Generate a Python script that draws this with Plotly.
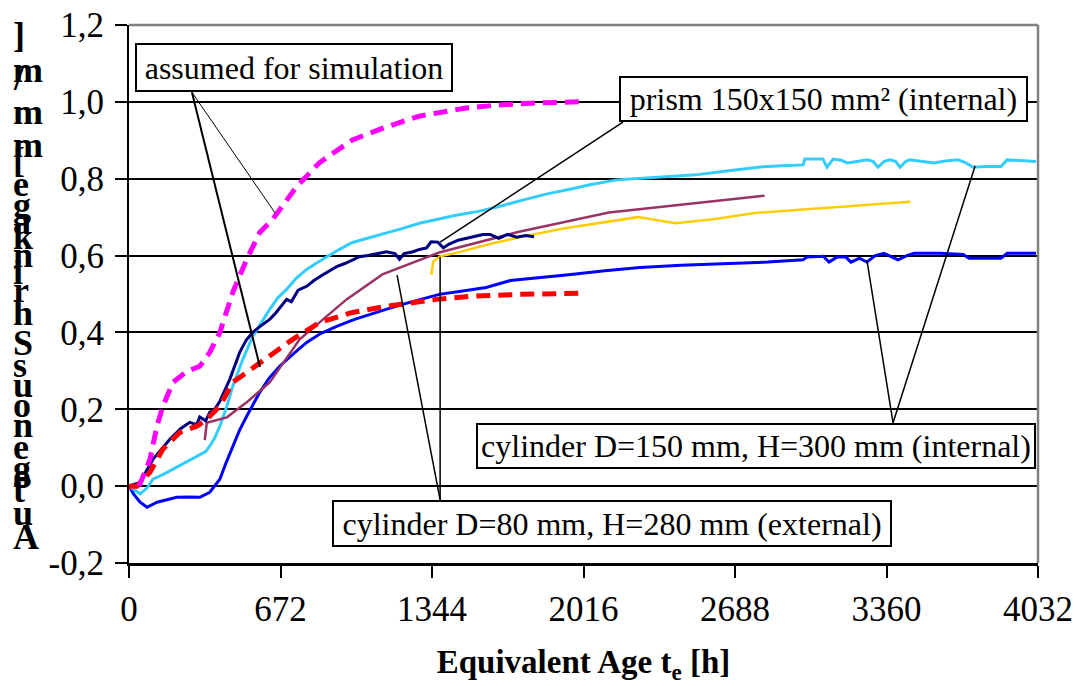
import plotly.graph_objects as go

# ---------------- data ----------------
x_ticks = [0, 672, 1344, 2016, 2688, 3360, 4032]
y_ticks = [-0.2, 0.0, 0.2, 0.4, 0.6, 0.8, 1.0, 1.2]
y_tick_labels = ["-0,2", "0,0", "0,2", "0,4", "0,6", "0,8", "1,0", "1,2"]

# assumed for simulation (upper, magenta dashed)
sim_upper_x = [45, 58, 93, 124, 150, 195, 257, 314, 358, 403, 460, 522, 580, 637, 743, 845, 991, 1142, 1288, 1496, 1638, 1800, 1996]
sim_upper_y = [0.0, 0.018, 0.07, 0.156, 0.208, 0.27, 0.299, 0.312, 0.348, 0.40, 0.504, 0.59, 0.66, 0.694, 0.779, 0.842, 0.901, 0.935, 0.963, 0.984, 0.992, 0.997, 1.0]

# assumed for simulation (lower, red dashed)
sim_lower_x = [0, 35, 93, 150, 226, 301, 345, 403, 460, 580, 726, 845, 991, 1142, 1363, 1509, 1730, 2009]
sim_lower_y = [0.0, 0.0, 0.036, 0.096, 0.14, 0.156, 0.174, 0.208, 0.27, 0.322, 0.382, 0.426, 0.452, 0.468, 0.486, 0.494, 0.499, 0.502]

# prism 150x150 mm2 (internal), navy
prism_x = [0, 49, 106, 150, 181, 230, 270, 300, 314, 340, 358, 380, 403, 447, 491, 520, 549, 580, 624, 650, 699, 720, 750, 788,
           820, 860, 900, 921, 960, 1000, 1022, 1060, 1100, 1142, 1180, 1200, 1220, 1260, 1288, 1320, 1340, 1370, 1394, 1420,
           1460, 1496, 1530, 1570, 1602, 1640, 1680, 1720, 1760, 1797]
prism_y = [0.0, 0.01, 0.07, 0.10, 0.122, 0.15, 0.166, 0.16, 0.18, 0.17, 0.192, 0.20, 0.221, 0.278, 0.348, 0.38, 0.40, 0.415,
           0.434, 0.45, 0.486, 0.48, 0.51, 0.52, 0.535, 0.55, 0.565, 0.571, 0.58, 0.59, 0.597, 0.60, 0.605, 0.61, 0.605, 0.59,
           0.605, 0.61, 0.616, 0.62, 0.636, 0.635, 0.62, 0.63, 0.64, 0.645, 0.65, 0.655, 0.655, 0.645, 0.655, 0.648, 0.652, 0.649]

# cylinder D=150 mm, H=300 mm (internal) - upper, cyan
cyl150a_x = [0, 18, 49, 80, 106, 150, 195, 250, 301, 340, 358, 380, 403, 434, 460, 505, 549, 580, 624, 660, 699, 740, 788, 830,
             876, 930, 991, 1060, 1142, 1210, 1288, 1363, 1450, 1550, 1638, 1750, 1850, 1950, 2050, 2164, 2300, 2400, 2514,
             2650, 2810, 2900, 2990, 2998, 3078, 3096, 3123, 3160, 3185, 3230, 3273, 3300, 3322, 3350, 3375, 3400, 3420, 3445,
             3464, 3520, 3571, 3620, 3677, 3710, 3744, 3800, 3868, 3895, 3950, 4023]
cyl150a_y = [0.0, -0.008, -0.02, -0.005, 0.018, 0.03, 0.044, 0.06, 0.078, 0.09, 0.104, 0.125, 0.156, 0.208, 0.26, 0.33, 0.39,
             0.42, 0.46, 0.49, 0.512, 0.54, 0.564, 0.58, 0.597, 0.615, 0.634, 0.645, 0.66, 0.67, 0.684, 0.694, 0.705, 0.715,
             0.727, 0.745, 0.76, 0.772, 0.785, 0.797, 0.802, 0.806, 0.81, 0.82, 0.831, 0.834, 0.836, 0.851, 0.851, 0.830,
             0.851, 0.848, 0.841, 0.845, 0.849, 0.845, 0.830, 0.845, 0.849, 0.845, 0.830, 0.845, 0.849, 0.845, 0.841, 0.846,
             0.849, 0.842, 0.830, 0.832, 0.832, 0.849, 0.848, 0.845]

# cylinder D=150 mm, H=300 mm (internal) - lower, blue
cyl150b_x = [0, 20, 49, 80, 124, 170, 212, 260, 314, 358, 403, 430, 460, 490, 522, 580, 620, 668, 730, 788, 850, 921, 1000,
             1067, 1140, 1213, 1300, 1376, 1480, 1584, 1691, 1800, 1950, 2100, 2266, 2450, 2650, 2834, 2990, 3007, 3080,
             3105, 3140, 3180, 3202, 3240, 3273, 3310, 3349, 3411, 3450, 3482, 3600, 3700, 3726, 3868, 3895, 4023]
cyl150b_y = [0.0, -0.02, -0.042, -0.055, -0.042, -0.035, -0.029, -0.028, -0.029, -0.016, 0.018, 0.06, 0.104, 0.145, 0.182,
             0.244, 0.28, 0.312, 0.345, 0.374, 0.397, 0.416, 0.434, 0.447, 0.46, 0.473, 0.487, 0.499, 0.508, 0.517, 0.535,
             0.541, 0.55, 0.56, 0.569, 0.575, 0.58, 0.583, 0.589, 0.596, 0.598, 0.583, 0.596, 0.596, 0.583, 0.593, 0.583,
             0.60, 0.606, 0.589, 0.60, 0.606, 0.606, 0.603, 0.593, 0.593, 0.606, 0.606]

# cylinder D=80 mm, H=280 mm (external) - purple
cyl80a_x = [336, 345, 434, 522, 624, 757, 965, 1124, 1376, 1730, 2129, 2819]
cyl80a_y = [0.12, 0.165, 0.179, 0.218, 0.27, 0.382, 0.486, 0.551, 0.608, 0.662, 0.712, 0.756]

# cylinder D=80 mm, H=280 mm (external) - gold
cyl80b_x = [1341, 1350, 1380, 1465, 1600, 1750, 1934, 2100, 2257, 2425, 2600, 2775, 3100, 3466]
cyl80b_y = [0.55, 0.585, 0.598, 0.609, 0.63, 0.65, 0.671, 0.685, 0.700, 0.684, 0.695, 0.711, 0.725, 0.74]

y_title = "Autogenous Shrinkage [mm/m]"
x_title = "<b>Equivalent Age t<sub>e</sub> [h]</b>"

label_sim = "assumed for simulation"
label_prism = "prism 150x150 mm² (internal)"
label_cyl150 = "cylinder D=150 mm, H=300 mm (internal)"
label_cyl80 = "cylinder D=80 mm, H=280 mm (external)"

# ---------------- figure ----------------
FONT = "Liberation Serif"
fig = go.Figure()

def add_line(x, y, color, width, dash="solid"):
    fig.add_trace(go.Scatter(x=x, y=y, mode="lines", line=dict(color=color, width=width, dash=dash),
                             showlegend=False, hoverinfo="skip"))

add_line(cyl150b_x, cyl150b_y, "#0000FF", 3)
add_line(cyl150a_x, cyl150a_y, "#33CCFF", 3)
add_line(cyl80a_x, cyl80a_y, "#993366", 2.5)
add_line(cyl80b_x, cyl80b_y, "#FFCC00", 2.5)
add_line(prism_x, prism_y, "#000080", 3)
add_line(sim_lower_x, sim_lower_y, "#FF0000", 5, "14px,8px")
add_line(sim_upper_x, sim_upper_y, "#FF00FF", 5, "14px,8px")

# page body has an 8px margin: the figure is drawn 8px right/down
OFF = 8
W, H = 1080 - OFF, 686 - OFF
PX0, PX1, PY0, PY1 = 129, 1038, 25, 563   # plot area in page pixels
L, T = PX0 - OFF, PY0 - OFF
R, B = W - (PX1 - OFF), H - (PY1 - OFF)

def px(xp):
    return (xp - PX0) / (PX1 - PX0)

def py(yp):
    return (PY1 - yp) / (PY1 - PY0)

# leader lines: (x0, y0, x1, y1, width) in data units
leaders = [
    (279, 1.025, 581, 0.310, 2),
    (279, 1.025, 648, 0.711, 1),
    (2191, 0.947, 1380, 0.635, 1.5),
    (3389, 0.165, 3753, 0.833, 1.5),
    (3389, 0.165, 3273, 0.588, 1.5),
    (1380, -0.036, 1189, 0.549, 1.5),
    (1380, -0.036, 1380, 0.596, 1.5),
]
shapes = []
for x0, y0, x1, y1, w in leaders:
    shapes.append(dict(type="line", xref="x", yref="y", x0=x0, y0=y0, x1=x1, y1=y1,
                       line=dict(color="black", width=w), layer="above"))
# gray top/right frame
shapes.append(dict(type="line", xref="paper", yref="paper", x0=0, y0=1, x1=1, y1=1,
                   line=dict(color="#808080", width=2.5), layer="above"))
shapes.append(dict(type="line", xref="paper", yref="paper", x0=1, y0=0, x1=1, y1=1,
                   line=dict(color="#808080", width=2.5), layer="above"))

annotations = []
def box(text, cx, cy, w, h):
    annotations.append(dict(text=text, xref="paper", yref="paper", x=px(cx), y=py(cy),
                            xanchor="center", yanchor="middle", showarrow=False,
                            width=w, height=h, bgcolor="white", bordercolor="black",
                            borderwidth=2, borderpad=0,
                            font=dict(family=FONT, size=32, color="black")))

box(label_sim, 294, 67.5, 314, 45)
box(label_prism, 823.5, 99, 405, 42)
box(label_cyl150, 756, 446, 556, 42)
box(label_cyl80, 612, 523.5, 556, 43)

# stacked y-axis title letters (upright, bottom to top)
letter_y = [537, 513, 490, 476, 468, 447, 425, 405, 385, 365, 343, 313, 290, 272, 255, 237, 222, 205, 184, 160, 145, 112, 78, 70, 35]
chars = [c for c in y_title if c != " "]
for c, yp in zip(chars, letter_y):
    annotations.append(dict(text=f"<b>{c}</b>", xref="paper", yref="paper", x=px(11), y=py(yp),
                            xanchor="left", yanchor="middle", showarrow=False,
                            font=dict(family=FONT, size=36, color="black")))

fig.update_layout(
    width=W, height=H,
    margin=dict(l=L, r=R, t=T, b=B, autoexpand=False),
    paper_bgcolor="white", plot_bgcolor="white",
    font=dict(family=FONT, color="black"),
    shapes=shapes, annotations=annotations,
    xaxis=dict(range=[0, 4032], tickvals=x_ticks, ticktext=[str(v) for v in x_ticks],
               showgrid=False, zeroline=False, showline=True, linecolor="black", linewidth=3,
               ticks="outside", ticklen=12, tickwidth=2, tickcolor="black",
               tickfont=dict(family=FONT, size=35, color="black"), ticklabelstandoff=1,
               ticklabeloverflow="allow",
               title=dict(text=x_title, font=dict(family=FONT, size=33, color="black"), standoff=22),
               automargin=False),
    yaxis=dict(range=[-0.2, 1.2000001], tickvals=y_ticks, ticktext=y_tick_labels,
               showgrid=True, gridcolor="black", gridwidth=2, zeroline=False,
               showline=True, linecolor="black", linewidth=2,
               ticks="outside", ticklen=12, tickwidth=2, tickcolor="black",
               tickfont=dict(family=FONT, size=35, color="black"), ticklabelstandoff=4,
               ticklabeloverflow="allow",
               automargin=False),
)

fig.write_html("out.html")
